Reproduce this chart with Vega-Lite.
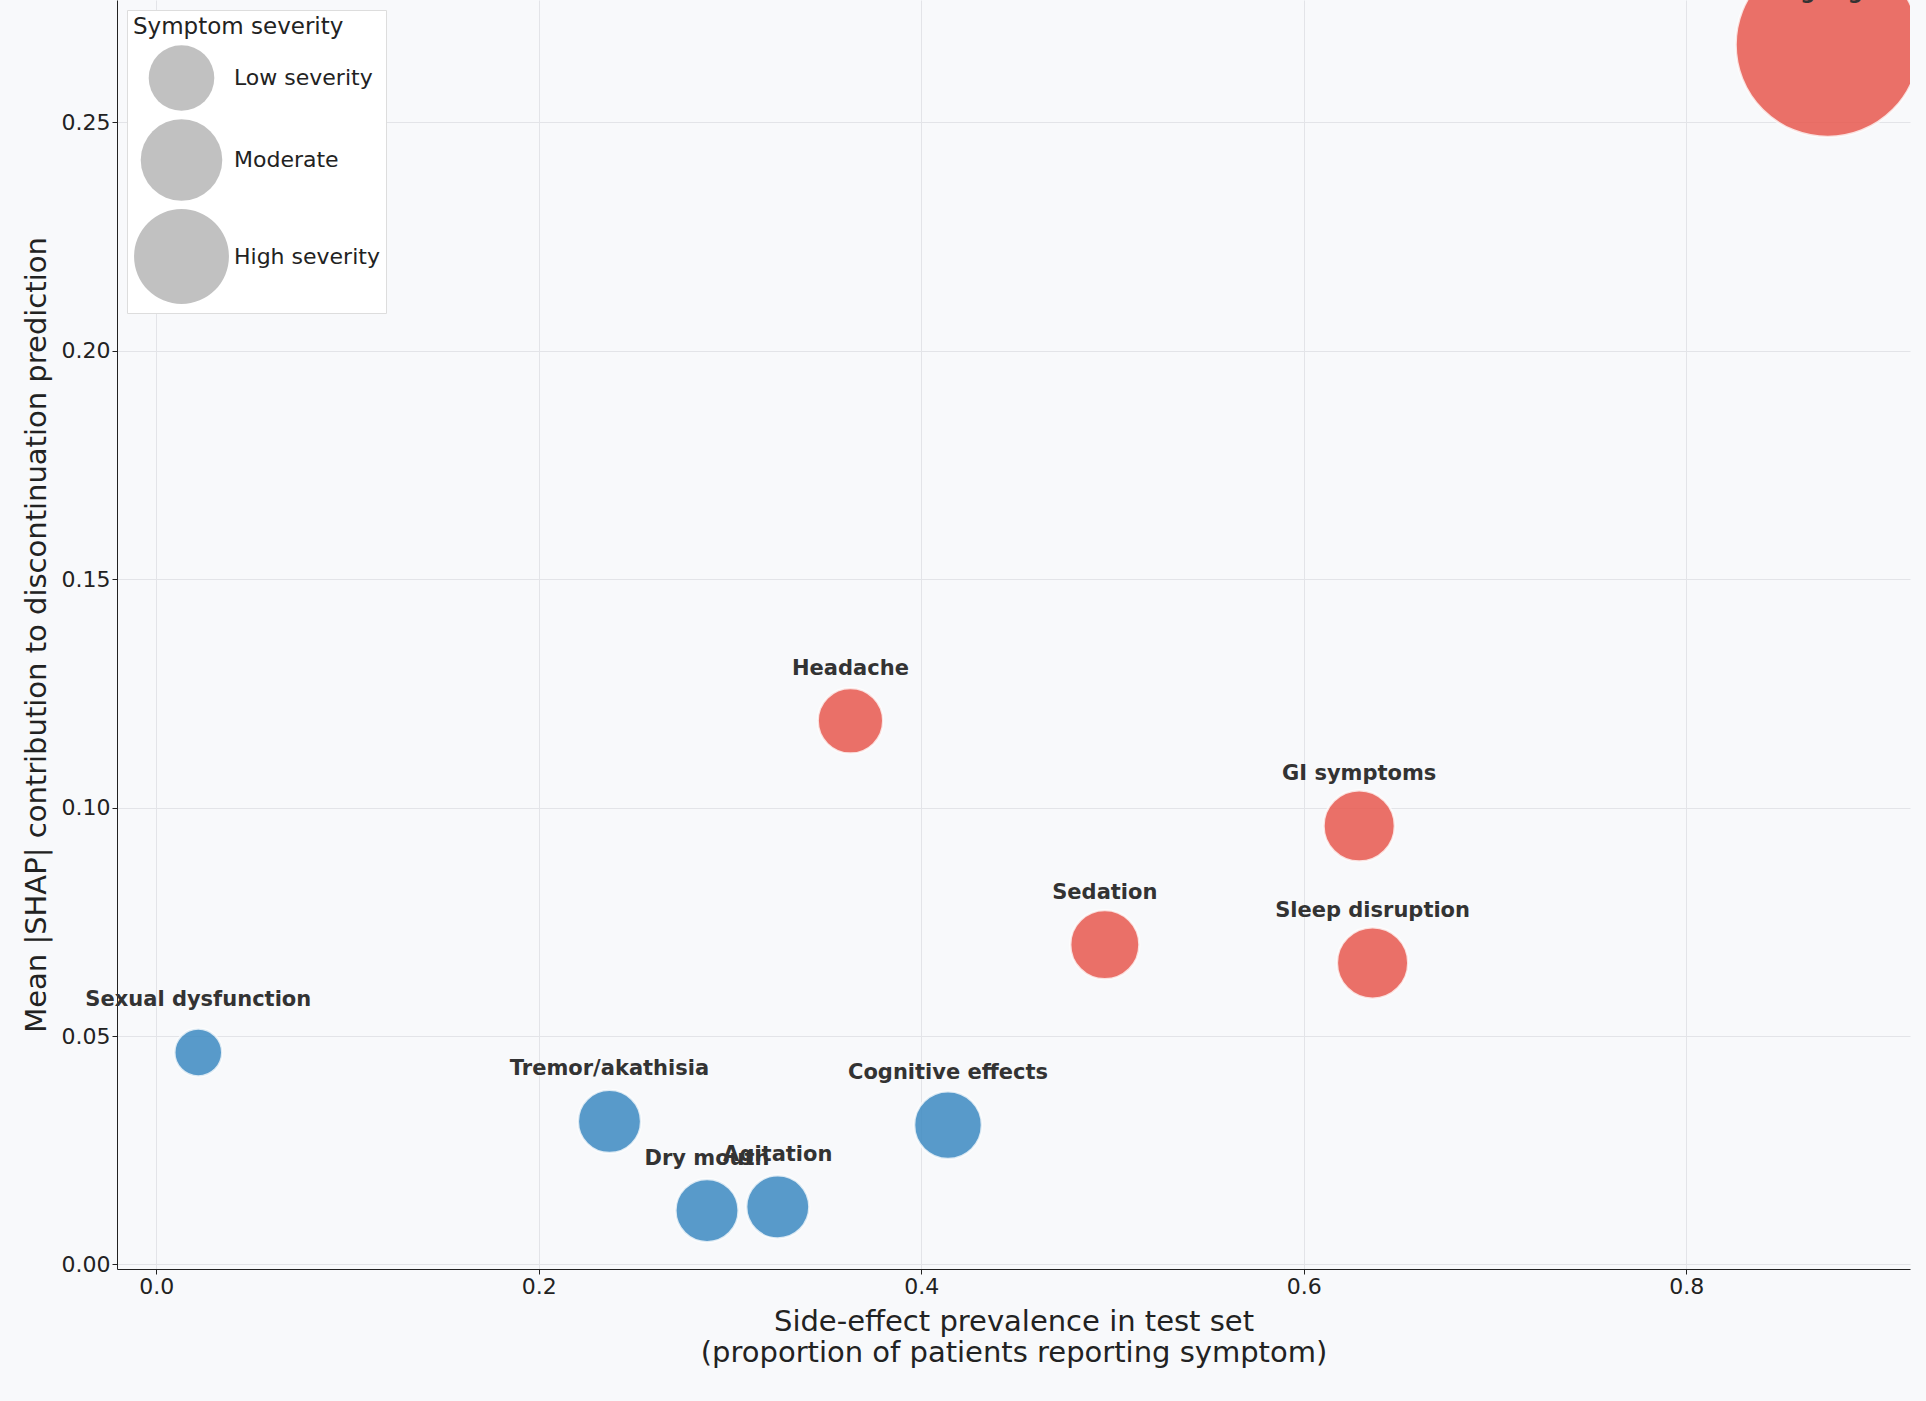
{
"$schema":"https://vega.github.io/schema/vega-lite/v6.json",
"width":1793,"height":1269,
"autosize":{"type":"none"},
"padding":{"left":117,"top":0,"right":16,"bottom":132},
"background":"#f8f9fb",
"config":{"view":{"stroke":null},"font":"DejaVu Sans",
 "axis":{"gridColor":"#e3e4e8","labelFontSize":22,"titleFontSize":29,"titleFontWeight":"normal","labelColor":"#222","titleColor":"#222","domainColor":"#222","tickColor":"#222","labelFont":"DejaVu Sans","titleFont":"DejaVu Sans"}},
"datasets":{
 "pts":[
  {"symptom":"Sexual dysfunction","prevalence":0.022,"shap":0.0464,"area":2300,"group":"low"},
  {"symptom":"Tremor/akathisia","prevalence":0.237,"shap":0.0313,"area":4000,"group":"low"},
  {"symptom":"Dry mouth","prevalence":0.288,"shap":0.0118,"area":4000,"group":"low"},
  {"symptom":"Agitation","prevalence":0.325,"shap":0.0126,"area":4000,"group":"low"},
  {"symptom":"Cognitive effects","prevalence":0.414,"shap":0.0305,"area":4600,"group":"low"},
  {"symptom":"Headache","prevalence":0.363,"shap":0.119,"area":4300,"group":"high"},
  {"symptom":"Sedation","prevalence":0.496,"shap":0.070,"area":4800,"group":"high"},
  {"symptom":"GI symptoms","prevalence":0.629,"shap":0.096,"area":5100,"group":"high"},
  {"symptom":"Sleep disruption","prevalence":0.636,"shap":0.066,"area":5100,"group":"high"},
  {"symptom":"Weight gain","prevalence":0.874,"shap":0.267,"area":34000,"group":"high"}
 ],
 "leg":[
  {"severity":"Low severity","prevalence":0,"shap":0},
  {"severity":"Moderate","prevalence":0,"shap":0},
  {"severity":"High severity","prevalence":0,"shap":0}
 ]},
"layer":[
 {"data":{"name":"pts"},
  "mark":{"type":"point","filled":true,"shape":"circle","opacity":0.85,"stroke":"white","strokeWidth":2.5,"strokeOpacity":0.8,"clip":true},
  "encoding":{
   "x":{"field":"prevalence","type":"quantitative","scale":{"domain":[-0.0205,0.917],"nice":false,"zero":false},
     "axis":{"values":[0,0.2,0.4,0.6,0.8],"format":".1f","title":["Side-effect prevalence in test set","(proportion of patients reporting symptom)"],"titlePadding":10}},
   "y":{"field":"shap","type":"quantitative","scale":{"domain":[-0.001,0.2768],"nice":false,"zero":false},
     "axis":{"values":[0,0.05,0.1,0.15,0.2,0.25],"format":".2f","title":"Mean |SHAP| contribution to discontinuation prediction","titlePadding":10}},
   "size":{"field":"area","type":"quantitative","scale":null,"legend":null},
   "color":{"field":"group","type":"nominal","scale":{"domain":["low","high"],"range":["#3d8ac2","#e8594f"]},"legend":null}
  }},
 {"data":{"name":"pts"},
  "mark":{"type":"text","fontWeight":"bold","fontSize":21,"color":"#333","dy":-52},
  "encoding":{"x":{"field":"prevalence","type":"quantitative"},"y":{"field":"shap","type":"quantitative"},"text":{"field":"symptom"}}},
 {"data":{"name":"leg"},
  "mark":{"type":"point","filled":true,"shape":"circle","opacity":0,"color":"#8f8f8f"},
  "encoding":{"x":{"field":"prevalence","type":"quantitative"},"y":{"field":"shap","type":"quantitative"},
   "size":{"field":"severity","type":"nominal","scale":{"domain":["Low severity","Moderate","High severity"],"range":[4300,9000,14000]},
    "legend":{"title":"Symptom severity","orient":"top-left","offset":10,"symbolFillColor":"#8f8f8f","symbolOpacity":0.55,"symbolStrokeColor":"#777","fillColor":"white","strokeColor":"#ddd","padding":6,"titleFontSize":23,"titleFontWeight":"normal","titleLimit":400,"labelFontSize":22,"labelColor":"#222","titleColor":"#222","titleAnchor":"start"}}}}
],
"resolve":{"scale":{"size":"independent"}}
}
